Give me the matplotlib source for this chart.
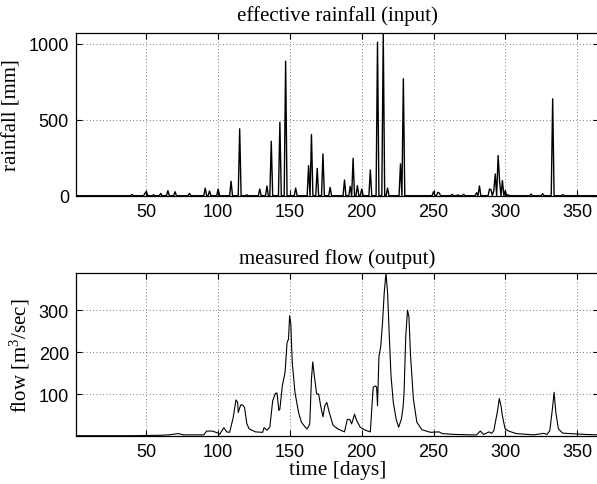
import matplotlib
matplotlib.use('Agg')
import matplotlib.pyplot as plt
import numpy as np

# effective rainfall, daily; days not listed are zero
rain_days = [40, 49, 50, 55, 60, 65, 70, 80, 91, 94, 100, 109, 115, 120, 129, 134,
             137, 143, 147, 154, 163, 165, 169, 173, 178, 188, 192, 194, 197, 200,
             206, 211, 215, 218, 227, 229, 250, 253, 254, 263, 267, 271, 280, 282,
             289, 290, 292, 293, 295, 296, 298, 300, 302, 318, 326, 333, 340]
rain_vals = [8, 15, 28, 6, 15, 33, 26, 15, 50, 31, 44, 95, 440, 6, 44, 64,
             358, 483, 885, 50, 198, 402, 180, 275, 55, 103, 62, 246, 66, 44,
             170, 1010, 1070, 50, 209, 769, 26, 22, 18, 9, 6, 9, 20, 64,
             44, 40, 33, 143, 264, 99, 99, 33, 6, 11, 13, 637, 7]

# measured flow
flow_days = [1, 20, 40, 60, 66, 72, 76, 90, 92, 96, 100, 101, 104, 106, 108,
             110.5, 112.4, 113.6, 114, 115.7, 117, 118.4, 120, 121.7, 126, 131, 132,
             134, 136, 138, 140, 141, 142.3, 143, 144.7, 146.6, 148, 149, 149.8, 150.6,
             151.6, 153.5, 156, 158, 160.7, 162, 163.8, 165, 165.9, 167, 168.6, 170,
             171.4, 173, 174.3, 175.7, 177.4, 180, 183.4, 188, 190, 191.8, 193, 195,
             196.5, 199, 202.5, 206, 207, 208, 209.7, 210.4, 211, 212, 213.3, 214.5,
             215.7, 216.9, 218, 219.3, 220.4, 222, 224, 225.7, 227.6, 228.8, 229.5,
             230.7, 231.9, 232.9, 234, 236, 238.4, 242, 248, 254, 256, 264.7, 276.6,
             280, 282.6, 285, 288.6, 290.5, 292, 294.6, 295.8, 297, 298, 299.8, 301.7,
             304, 307.7, 319.7, 326.8, 329, 331, 332.8, 334, 335.2, 337, 340, 355.5, 365]
flow_vals = [2, 2, 2, 3, 4, 7, 4, 4, 13, 13, 8, 5, 21, 11, 10,
             45, 87, 81, 57, 75, 75, 69, 30, 18, 11, 10, 21,
             15, 22, 85, 103, 103, 62, 65, 120, 152, 223, 231, 286, 268,
             176, 105, 57, 34, 22, 18, 30, 136, 177, 144, 101, 101,
             73, 47, 73, 81, 57, 27, 18, 11, 41, 40, 30, 53,
             38, 22, 15, 11, 65, 117, 120, 117, 73, 190, 215, 271,
             342, 388, 342, 231, 144, 81, 41, 22, 41, 69, 105,
             239, 300, 283, 192, 89, 34, 16, 10, 11, 7, 5, 4,
             4, 13, 5, 11, 7.5, 14, 61, 90, 73, 49, 19, 14,
             11, 7, 4, 7.5, 5, 14, 65, 105, 57, 18, 8, 5, 4]

x_ticks = [50, 100, 150, 200, 250, 300, 350]
rain_ticks = [0, 500, 1000]
flow_ticks = [100, 200, 300]

days = np.arange(1, 366)
rain = np.zeros(len(days))
rain[np.array(rain_days) - 1] = rain_vals

serif = 'Liberation Serif'
sans = 'Liberation Sans'
plt.rcParams['font.family'] = sans
plt.rcParams['mathtext.fontset'] = 'custom'
plt.rcParams['mathtext.rm'] = serif
plt.rcParams['mathtext.it'] = serif + ':italic'
lab = dict(fontfamily=serif, fontsize=15)


def style(ax):
    ax.tick_params(direction='in', top=True, right=True, length=4, width=0.8,
                   labelsize=13, pad=5)
    ax.grid(True, linestyle=(0, (1, 3)), color='black', linewidth=0.6, alpha=0.7)
    for s in ax.spines.values():
        s.set_linewidth(0.9)
    ax.set_xlim(1, 365)
    ax.set_xticks(x_ticks)


fig = plt.figure(figsize=(5.97, 4.85), dpi=100)
ax1 = fig.add_axes([0.1273, 0.5944, 0.8754, 0.3355])
ax2 = fig.add_axes([0.1273, 0.0996, 0.8754, 0.3355])

ax1.plot(days, rain, color='black', linewidth=1.0)
style(ax1)
ax1.set_ylim(0, max(rain_vals))
ax1.set_yticks(rain_ticks)
ax1.set_title('effective rainfall (input)', pad=9, **lab)
ax1.set_ylabel('rainfall [mm]', labelpad=5, **lab)

ax2.plot(flow_days, flow_vals, color='black', linewidth=0.8)
style(ax2)
ax2.set_ylim(min(flow_vals), max(flow_vals))
ax2.set_yticks(flow_ticks)
ax2.set_title('measured flow (output)', pad=7, **lab)
ax2.set_ylabel('flow [m$^3$/sec]', labelpad=5, **lab)
ax2.set_xlabel('time [days]', labelpad=0, fontfamily=serif, fontsize=15.5)

fig.savefig('out.png', dpi=100)
